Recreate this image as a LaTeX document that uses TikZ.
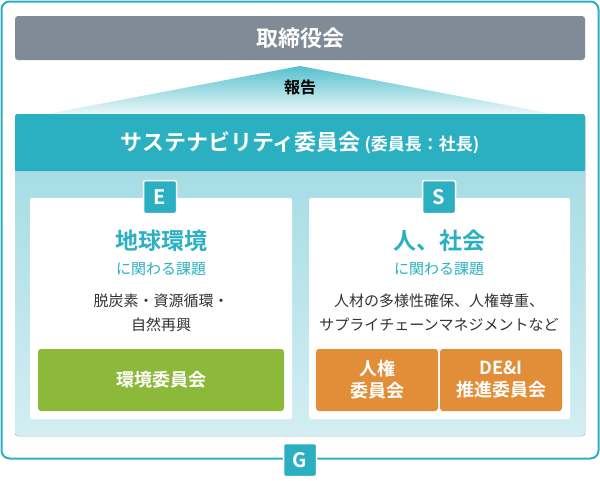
\documentclass[tikz,border=0pt]{standalone}
\usepackage{fontspec}
\setmainfont{Noto Sans CJK JP}[BoldFont={Noto Sans CJK JP Bold}]
\definecolor{teal}{HTML}{2BB0C2}
\definecolor{board}{HTML}{818B98}
\definecolor{lt1}{HTML}{9DD9E2}
\definecolor{lt2}{HTML}{D3EEF2}
\definecolor{grn}{HTML}{8DB93A}
\definecolor{org}{HTML}{E28D38}
\definecolor{txt}{HTML}{333333}
\begin{document}
\begin{tikzpicture}[x=1pt,y=-1pt,
  badge/.style={fill=teal,draw=white,line width=1.5pt,rounded corners=2pt,text=white,font=\bfseries\fontsize{20}{20}\selectfont,minimum size=33pt,inner sep=0pt},
  wt/.style={text=white,font=\bfseries\fontsize{18}{22}\selectfont,align=center},
  body/.style={text=txt,font=\fontsize{15}{24}\selectfont,align=center}]
\useasboundingbox (0,0) rectangle (600,480);
\draw[teal,line width=2pt,rounded corners=8pt,fill=white] (1.5,1.5) rectangle (598.5,458.5);
\fill[board,rounded corners=3pt] (15,16) rectangle (585,60);
\node[wt,font=\bfseries\fontsize{22}{24}\selectfont] (board) at (300,38) {取締役会};
\shade[top color=teal!80,bottom color=white] (300,66)--(585,120)--(15,120)--cycle;
\node[font=\bfseries\fontsize{16}{16}\selectfont] (rep) at (300,87) {報告};
\fill[top color=lt1,bottom color=lt2,rounded corners=3pt] (15,114) rectangle (585,436);
\fill[teal,rounded corners=3pt] (15,114) rectangle (585,171);
\fill[teal] (15,160) rectangle (585,171);
\node[wt,font=\bfseries\fontsize{22}{24}\selectfont] (sus) at (300,143) {サステナビリティ委員会\,{\fontsize{17}{18}\selectfont (委員長：社長)}};
\fill[white,rounded corners=2pt] (30,198) rectangle (292,419);
\fill[white,rounded corners=2pt] (309,198) rectangle (570,419);
\node[badge] (e) at (160,197) {E};
\node[badge] (s) at (439,197) {S};
\node[badge] (g) at (300,460) {G};
\node[text=teal,font=\bfseries\fontsize{23}{24}\selectfont] (et) at (161,241) {地球環境};
\node[text=teal,font=\fontsize{15}{16}\selectfont] (es) at (161,269) {に関わる課題};
\node[body] (eb) at (161,313) {脱炭素・資源循環・\\自然再興};
\node[text=teal,font=\bfseries\fontsize{23}{24}\selectfont] (st) at (439,241) {人、社会};
\node[text=teal,font=\fontsize{15}{16}\selectfont] (ss) at (439,269) {に関わる課題};
\node[body] (sb) at (439,313) {人材の多様性確保、人権尊重、\\サプライチェーンマネジメントなど};
\fill[grn,rounded corners=3pt] (38,349) rectangle (284,411);
\node[wt] (env) at (161,380) {環境委員会};
\fill[org,rounded corners=3pt] (316,349) rectangle (438,411);
\fill[org,rounded corners=3pt] (440,349) rectangle (562,411);
\node[wt] (hr) at (377,380) {人権\\委員会};
\node[wt] (dei) at (501,380) {DE\&I\\推進委員会};
\end{tikzpicture}
\end{document}
